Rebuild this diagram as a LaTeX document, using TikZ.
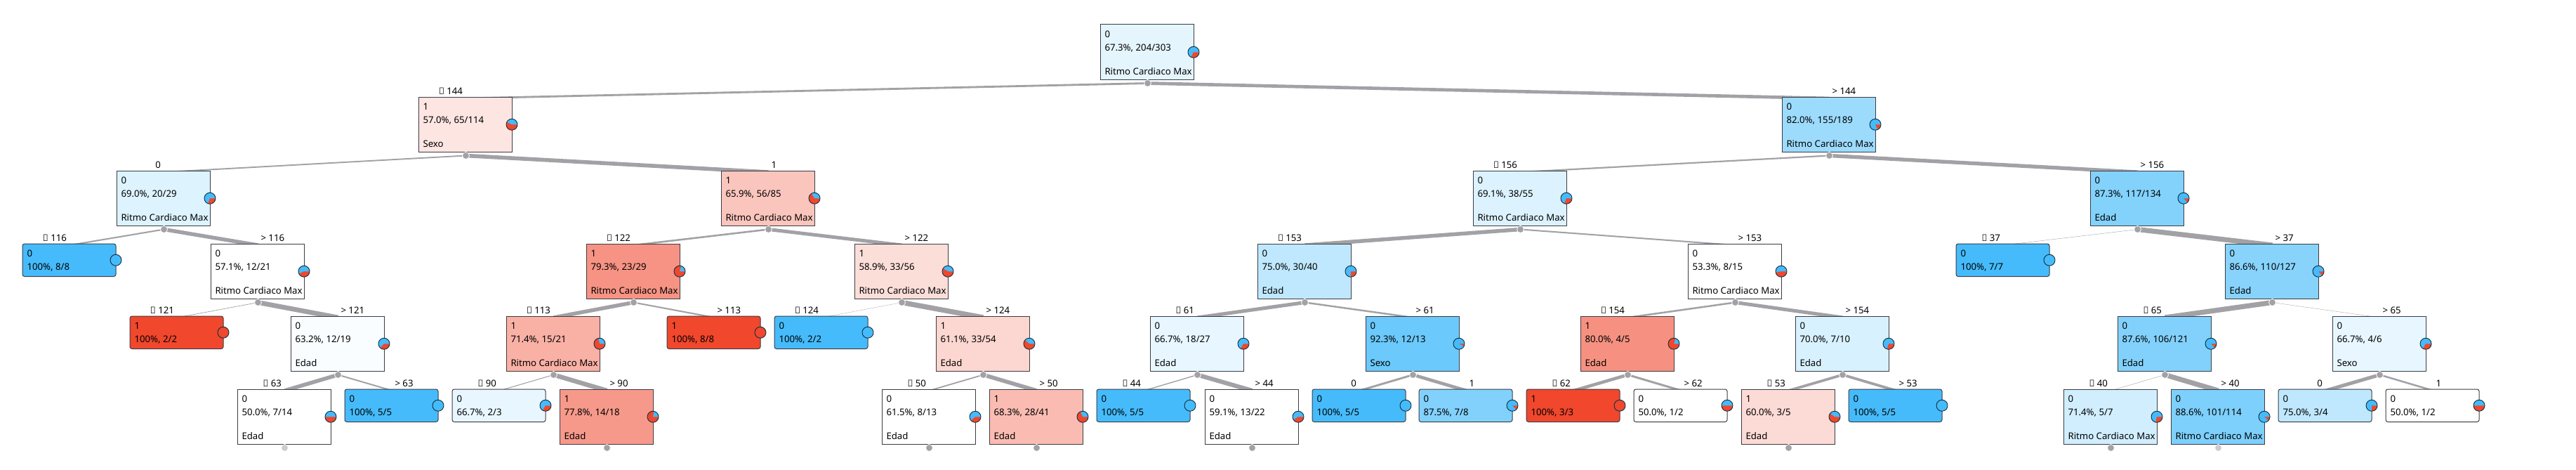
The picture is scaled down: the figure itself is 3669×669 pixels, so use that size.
\documentclass[tikz,border=0pt]{standalone}
\usepackage{fontspec}
\setmainfont{Noto Sans}
\usetikzlibrary{backgrounds}
\definecolor{czero}{HTML}{45BBFB}
\definecolor{cone}{HTML}{F0472D}
\definecolor{edgecol}{HTML}{A2A2A6}
\definecolor{handlelight}{HTML}{CCCCCC}
\definecolor{boxline}{HTML}{3C3C44}
\definecolor{divcol}{HTML}{BEBEBE}
\newcommand\fs{\fontsize{13.2}{16}\selectfont}
\newlength\lena
\newlength\lenb
\tikzset{
  x=1pt,y=-1pt,
  treebox/.style={draw=boxline,line width=1pt,inner sep=0pt,outer sep=0pt,minimum width=133pt},
  ibox/.style={treebox,minimum height=78.5pt},
  lbox/.style={treebox,minimum height=46.5pt,rounded corners=3pt},
  txt/.style={font=\fs,text=black,inner sep=0pt,outer sep=0pt,anchor=base west},
  lab/.style={font=\fs,text=black,inner sep=0pt,outer sep=0pt},
  handle/.style={circle,fill=#1,draw=white,line width=0.8pt,minimum size=10pt,inner sep=0pt,outer sep=0pt},
  treeedge/.style={draw=edgecol,line cap=butt},
  pieline/.style={draw=black!75!czero,line width=0.9pt,fill=none},
}
% shared colour and pie computation: #1 class, #2 a, #3 b
\newcommand\calcnode[3]{%
  \pgfmathsetmacro\frc{#2/#3}%
  \ifnum#1=0
    \pgfmathsetmacro\mixv{max(0,(100*\frc-62)/38)*100}%
    \pgfmathsetmacro\redang{360*(1-\frc)}%
    \def\mixc{czero}%
  \else
    \pgfmathsetmacro\mixv{max(0,(100*\frc-50)/50)*100}%
    \pgfmathsetmacro\redang{360*\frc}%
    \def\mixc{cone}%
  \fi
}
\newcommand\drawpie[3]{% #1 id, #2 h
  \node[circle,fill=czero,inner sep=0pt,minimum size=16pt] (#1p) at (133,#2/2) {};
  \ifdim\redang pt>0.5pt
    \fill[cone] (133,#2/2) -- ++(8,0) arc[start angle=0,delta angle=-\redang,radius=8pt] -- cycle;
  \fi
  \draw[pieline] (133,#2/2) circle[radius=8pt];
}
% \NI[handlecolour]{id}{x}{y}{class}{pct}{a}{b}{feature}
\newcommand\NI[9][edgecol]{%
  \calcnode{#5}{#7}{#8}%
  \begin{scope}[shift={(#3,#4)}]
    \node[ibox,fill=\mixc!\mixv!white] (#2) at (66.5,39.25) {};
    \node[txt] (#2c) at (6.5,18) {#5};
    \node[txt] (#2t) at (6.5,37) {#6, #7/#8};
    \node[txt] (#2f) at (6.5,71) {#9};
    \settowidth\lena{\fs #6, #7/#8}\settowidth\lenb{\fs #9}%
    \ifdim\lenb>\lena\lena=\lenb\fi
    \draw[divcol,line width=1pt] (6.5,50) -- ++(\lena,0pt);
    \drawpie{#2}{78.5}{}
    \node[handle=#1] (h#2) at (67.5,83.5) {};
  \end{scope}
}
% \NL{id}{x}{y}{class}{pct}{a}{b}
\newcommand\NL[7]{%
  \calcnode{#4}{#6}{#7}%
  \begin{scope}[shift={(#2,#3)}]
    \node[lbox,fill=\mixc!\mixv!white] (#1) at (66.5,23.25) {};
    \node[txt] (#1c) at (6.5,18) {#4};
    \node[txt] (#1t) at (6.5,37) {#5, #6/#7};
    \drawpie{#1}{46.5}{}
  \end{scope}
}
% \EE{parent}{child}{n}{N}{l or r}{label}
\newcommand\EE[6]{%
  \pgfmathsetmacro\ew{max(0.3,7.5*(#3/#4))}%
  \begin{pgfonlayer}{background}
    \draw[treeedge,line width=\ew pt] (h#1.center) -- ([xshift=1pt,yshift=-2pt]#2.north);
  \end{pgfonlayer}
  \if#5l
    \node[lab,anchor=base east] (lab#2) at ([xshift=-3.5pt,yshift=4pt]#2.north) {#6};
  \else
    \node[lab,anchor=base west] (lab#2) at ([xshift=5pt,yshift=4pt]#2.north) {#6};
  \fi
}
\def\RCM{Ritmo Cardiaco Max}
\begin{document}
\begin{tikzpicture}
\useasboundingbox (0,0) rectangle (3669,669);
\NI{R}{1567}{35}{0}{67.3\%}{204}{303}{\RCM}
\NI{A}{596}{138}{1}{57.0\%}{65}{114}{Sexo}
\NI{B}{2538}{138}{0}{82.0\%}{155}{189}{\RCM}
\NI{AL}{166}{243}{0}{69.0\%}{20}{29}{\RCM}
\NI{AR}{1027}{243}{1}{65.9\%}{56}{85}{\RCM}
\NI{BL}{2098}{243}{0}{69.1\%}{38}{55}{\RCM}
\NI{BR}{2977}{243}{0}{87.3\%}{117}{134}{Edad}
\NL{c}{32}{347}{0}{100\%}{8}{8}
\NI{d}{300}{347}{0}{57.1\%}{12}{21}{\RCM}
\NI{e}{835}{347}{1}{79.3\%}{23}{29}{\RCM}
\NI{f}{1217}{347}{1}{58.9\%}{33}{56}{\RCM}
\NI{g}{1791}{347}{0}{75.0\%}{30}{40}{Edad}
\NI{i}{2404}{347}{0}{53.3\%}{8}{15}{\RCM}
\NL{j}{2786}{347}{0}{100\%}{7}{7}
\NI{k}{3169}{347}{0}{86.6\%}{110}{127}{Edad}
\NL{da}{185}{450}{1}{100\%}{2}{2}
\NI{db}{414}{450}{0}{63.2\%}{12}{19}{Edad}
\NI{ea}{721}{450}{1}{71.4\%}{15}{21}{\RCM}
\NL{eb}{950}{450}{1}{100\%}{8}{8}
\NL{fa}{1103}{450}{0}{100\%}{2}{2}
\NI{fb}{1333}{450}{1}{61.1\%}{33}{54}{Edad}
\NI{ga}{1638}{450}{0}{66.7\%}{18}{27}{Edad}
\NI{gb}{1945}{450}{0}{92.3\%}{12}{13}{Sexo}
\NI{ia}{2251}{450}{1}{80.0\%}{4}{5}{Edad}
\NI{ib}{2557}{450}{0}{70.0\%}{7}{10}{Edad}
\NI{ka}{3016}{450}{0}{87.6\%}{106}{121}{Edad}
\NI{kb}{3322}{450}{0}{66.7\%}{4}{6}{Sexo}
\NI[handlelight]{dba}{338}{554}{0}{50.0\%}{7}{14}{Edad}
\NL{dbb}{491}{554}{0}{100\%}{5}{5}
\NL{eaa}{644}{554}{0}{66.7\%}{2}{3}
\NI{eab}{797}{554}{1}{77.8\%}{14}{18}{Edad}
\NI{fba}{1256}{554}{0}{61.5\%}{8}{13}{Edad}
\NI{fbb}{1409}{554}{1}{68.3\%}{28}{41}{Edad}
\NL{gaa}{1562}{554}{0}{100\%}{5}{5}
\NI{gab}{1716}{554}{0}{59.1\%}{13}{22}{Edad}
\NL{gba}{1869}{554}{0}{100\%}{5}{5}
\NL{gbb}{2021}{554}{0}{87.5\%}{7}{8}
\NL{iaa}{2174}{554}{1}{100\%}{3}{3}
\NL{iab}{2327}{554}{0}{50.0\%}{1}{2}
\NI{iba}{2480}{554}{1}{60.0\%}{3}{5}{Edad}
\NL{ibb}{2633}{554}{0}{100\%}{5}{5}
\NI{kaa}{2939}{554}{0}{71.4\%}{5}{7}{\RCM}
\NI[handlelight]{kab}{3092}{554}{0}{88.6\%}{101}{114}{\RCM}
\NL{kba}{3245}{554}{0}{75.0\%}{3}{4}
\NL{kbb}{3398}{554}{0}{50.0\%}{1}{2}
\EE{R}{A}{114}{303}{l}{≤ 144}
\EE{R}{B}{189}{303}{r}{> 144}
\EE{A}{AL}{29}{114}{l}{0}
\EE{A}{AR}{85}{114}{r}{1}
\EE{B}{BL}{55}{189}{l}{≤ 156}
\EE{B}{BR}{134}{189}{r}{> 156}
\EE{AL}{c}{8}{29}{l}{≤ 116}
\EE{AL}{d}{21}{29}{r}{> 116}
\EE{d}{da}{2}{21}{l}{≤ 121}
\EE{d}{db}{19}{21}{r}{> 121}
\EE{db}{dba}{14}{19}{l}{≤ 63}
\EE{db}{dbb}{5}{19}{r}{> 63}
\EE{AR}{e}{29}{85}{l}{≤ 122}
\EE{AR}{f}{56}{85}{r}{> 122}
\EE{e}{ea}{21}{29}{l}{≤ 113}
\EE{e}{eb}{8}{29}{r}{> 113}
\EE{ea}{eaa}{3}{21}{l}{≤ 90}
\EE{ea}{eab}{18}{21}{r}{> 90}
\EE{f}{fa}{2}{56}{l}{≤ 124}
\EE{f}{fb}{54}{56}{r}{> 124}
\EE{fb}{fba}{13}{54}{l}{≤ 50}
\EE{fb}{fbb}{41}{54}{r}{> 50}
\EE{BL}{g}{40}{55}{l}{≤ 153}
\EE{BL}{i}{15}{55}{r}{> 153}
\EE{g}{ga}{27}{40}{l}{≤ 61}
\EE{g}{gb}{13}{40}{r}{> 61}
\EE{ga}{gaa}{5}{27}{l}{≤ 44}
\EE{ga}{gab}{22}{27}{r}{> 44}
\EE{gb}{gba}{5}{13}{l}{0}
\EE{gb}{gbb}{8}{13}{r}{1}
\EE{i}{ia}{5}{15}{l}{≤ 154}
\EE{i}{ib}{10}{15}{r}{> 154}
\EE{ia}{iaa}{3}{5}{l}{≤ 62}
\EE{ia}{iab}{2}{5}{r}{> 62}
\EE{ib}{iba}{5}{10}{l}{≤ 53}
\EE{ib}{ibb}{5}{10}{r}{> 53}
\EE{BR}{j}{7}{134}{l}{≤ 37}
\EE{BR}{k}{127}{134}{r}{> 37}
\EE{k}{ka}{121}{127}{l}{≤ 65}
\EE{k}{kb}{6}{127}{r}{> 65}
\EE{ka}{kaa}{7}{121}{l}{≤ 40}
\EE{ka}{kab}{114}{121}{r}{> 40}
\EE{kb}{kba}{4}{6}{l}{0}
\EE{kb}{kbb}{2}{6}{r}{1}
\end{tikzpicture}
\end{document}
